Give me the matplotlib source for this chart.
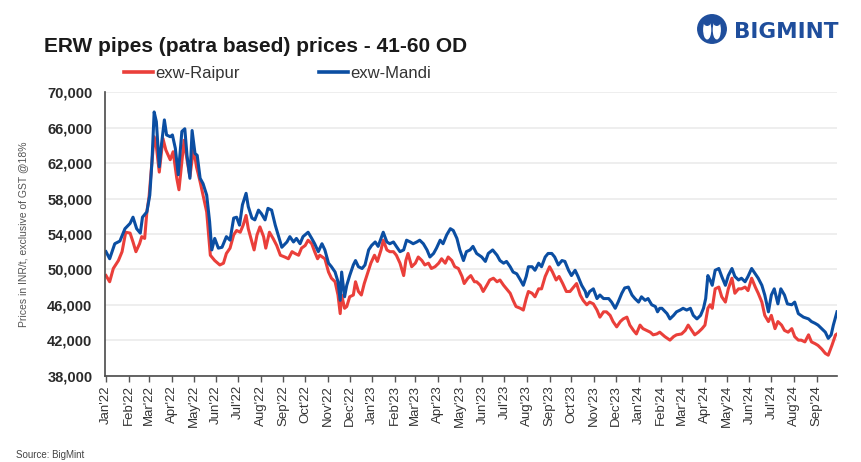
import numpy as np
import pandas as pd
import matplotlib
matplotlib.use('Agg')
import matplotlib.pyplot as plt
from matplotlib.patches import Circle, Ellipse

plt.rcParams['font.family'] = ['Liberation Sans', 'DejaVu Sans']

# days since 1 Jan 2022 and prices (INR/t)
mandi_day = [0, 5, 12, 19, 26, 33, 37, 42, 47, 50, 56, 60, 63, 66, 69, 73, 76, 80, 83, 88,
             91, 95, 99, 104, 108, 111, 115, 118, 122, 125, 129, 133, 138, 142, 145, 149, 154, 159, 165, 170,
             175, 179, 183, 187, 192, 195, 200, 204, 209, 213, 218, 222, 227, 232, 236, 241, 248,
             252, 257, 261, 266, 270, 277, 282, 286, 291, 296, 300, 305, 309, 314, 318, 321, 323, 327, 330, 334,
             339, 342, 346, 351, 355, 360, 364, 369, 373, 377, 380, 385, 389, 394, 398, 403, 408, 412, 417, 421,
             426, 430, 435, 440, 444, 449, 453, 458, 462, 467, 472, 476, 481, 485, 490, 494, 499, 503,
             508, 515, 520, 524, 530, 536, 540, 545, 549, 554, 558, 563, 568, 572, 576, 579, 584, 588, 593, 597,
             602, 606, 611, 615, 620, 625, 629, 634, 638, 643, 647, 652, 657, 659, 663, 668, 673, 677, 682, 689,
             693, 698, 702, 707, 711, 716, 721, 725, 730, 734, 739, 743, 748, 753, 756, 759,
             762, 769, 773, 778, 782, 787, 791, 796, 801, 805, 810, 815, 819, 822, 825, 828, 831, 835, 840, 844,
             849, 853, 858, 862, 867, 871, 876, 880, 885, 890, 894, 899, 903, 908, 912, 916, 921, 925, 930, 934,
             940, 944, 949, 956, 963, 967, 972, 976, 981, 986, 990, 994, 997, 1002]
mandi_price = [52000, 51200, 52900, 53200, 54600, 55200, 55900, 54600, 54100, 55900,
               56500, 58400, 62200, 67800, 66700, 61600, 64100, 66900, 65200, 65000,
               65200, 63700, 60700, 65600, 65900, 62900, 60300, 65700, 63100, 62900,
               60300, 59700, 58400, 55400, 52200, 53500, 52400, 52500, 53700, 53300,
               55800, 55900, 55000, 57300, 58600, 57100, 55800, 55600, 56700, 56300,
               55600, 56900, 56700, 55000, 53900, 52500, 53100,
               53700, 53100, 53500, 52900, 53700, 54200, 53500, 52900, 52000, 52900,
               52200, 50700, 50300, 49700, 48600, 46500, 49700, 46900, 48200, 49300,
               50500, 51000, 50300, 50100, 50500, 52200, 52700, 53100, 52600, 53500,
               54200, 53100, 52900, 53100, 52600, 52000, 52200, 53300, 53100, 52900,
               53100, 53300, 52900, 52200, 51400, 51800, 52400, 53300, 52900, 53900,
               54600, 54400, 53500, 52200, 51000, 52000, 52200, 52600,
               51800, 51400, 50900, 51800, 52200, 51600, 51000, 50700, 50900, 50300,
               49700, 49500, 48800, 48200, 49200, 50300, 50300, 49900, 50700, 50300,
               51400, 51800, 51800, 51400, 50500, 51000, 50900, 49900, 49300, 49900,
               49200, 48200, 47500, 46900, 47500, 47800, 46700, 47100, 46700, 46700,
               46300, 45600, 46300, 47300, 47900, 48000, 47100, 46700, 46300, 46900,
               46500, 46700, 46000, 45800, 45200, 45600,
               45600, 45000, 44400, 44800, 45200, 45400, 45600, 45400, 45600, 44800,
               44400, 44800, 45600, 46700, 49300, 48800, 48200, 49900, 50100, 49200,
               48200, 49300, 50100, 49200, 48800, 49000, 48600, 49200, 50100, 49500,
               49000, 48200, 47100, 45200, 47100, 47800, 46100, 47800, 47100, 46100,
               46000, 46300, 45000, 44600, 44400, 44100, 43900, 43700, 43300, 42900,
               42200, 42600, 43700, 45200]

raipur_day = [0, 5, 10, 17, 22, 27, 33, 37, 41, 46, 49, 53, 56, 59, 63, 66, 69, 73, 78, 82,
              88, 92, 97, 100, 104, 107, 111, 115, 120, 124, 129, 133, 138, 143, 149, 156, 161, 165, 170, 175,
              179, 184, 188, 192, 195, 200, 203, 207, 211, 216, 219, 224, 229, 234, 239, 245,
              250, 255, 259, 264, 268, 273, 277, 282, 286, 290, 293, 300, 305, 309, 314, 318, 321, 323, 327, 330,
              334, 339, 342, 346, 350, 354, 359, 363, 368, 372, 377, 380, 385, 389, 394, 398, 403, 408, 411, 414,
              419, 424, 428, 433, 437, 442, 446, 451, 456, 460, 465, 469, 474, 478, 483, 488, 491, 496, 500, 505,
              508, 513, 517, 522, 526, 531, 536, 540, 545, 549, 554, 558, 562, 568, 572, 576, 579, 584, 588, 593,
              597, 602, 608, 612, 617, 621, 626, 631, 636, 641, 645, 650, 654, 659, 663, 668, 673, 677, 682, 686,
              691, 695, 700, 705, 709, 714, 718, 723, 727, 732, 736, 741, 746, 750, 755,
              759, 766, 773, 778, 782, 789, 794, 798, 803, 807, 812, 817, 821, 825, 828, 831, 835, 840, 844, 849,
              853, 858, 862, 867, 871, 876, 880, 885, 890, 894, 899, 903, 908, 912, 917, 921, 926, 930, 935, 940,
              944, 949, 953, 958, 963, 967, 972, 976, 981, 986, 990, 995, 1000, 1002]
raipur_price = [49300, 48600, 50100, 51000, 52000, 54200, 54100, 53100, 52000, 52900,
                53700, 53500, 56500, 58200, 62200, 65000, 63900, 61000, 64800, 63500,
                62400, 63300, 60300, 59000, 62200, 64600, 62400, 60500, 63700, 61600,
                59900, 58400, 56500, 51600, 51000, 50500, 50700, 51800, 52400, 53900,
                54400, 54200, 55000, 56100, 54600, 53100, 52200, 53900, 54800, 53700,
                52400, 54200, 53500, 52700, 51600, 51400,
                51200, 52000, 51800, 51600, 52400, 52700, 53300, 52900, 52000, 51200,
                51600, 51200, 49700, 49000, 48600, 47100, 45000, 47100, 45600, 45800,
                46900, 47100, 48600, 47500, 47100, 48400, 49700, 50700, 51600, 50900,
                52200, 53300, 52200, 52000, 52000, 51600, 50700, 49300, 51000, 51800,
                50300, 50700, 51400, 51000, 50500, 50700, 50100, 50300, 50700, 51200,
                50700, 51400, 51000, 50300, 50100, 49200, 48400, 49000, 49300, 48600,
                48600, 48200, 47500, 48200, 48800, 49000, 48600, 48800, 48200, 47800,
                47300, 46500, 45800, 45600, 45400, 46700, 47500, 47300, 46900, 47800,
                47800, 49200, 50300, 49700, 48800, 49200, 48400, 47500, 47500, 48000,
                48400, 47100, 46500, 46000, 46300, 46100, 45400, 44600, 45200, 45200,
                44800, 44100, 43500, 44100, 44400, 44600, 43700, 43100, 42700, 43700,
                43300, 43100, 42900, 42600, 42700,
                42900, 42400, 42000, 42400, 42600, 42700, 43100, 43700, 43100, 42600,
                42900, 43300, 43700, 45600, 46000, 45600, 47800, 48000, 46900, 46300,
                47800, 49000, 47300, 47800, 47800, 48000, 47600, 49000, 48000, 47300,
                46300, 44800, 44100, 44800, 43300, 44100, 43700, 43100, 42900, 43300,
                42400, 42000, 42000, 41800, 42600, 41800, 41600, 41400, 41000, 40500,
                40300, 41400, 42600, 42700]

y_ticks = [38000, 42000, 46000, 50000, 54000, 58000, 62000, 66000, 70000]

start = pd.Timestamp('2022-01-01')
mandi_dates = start + pd.to_timedelta(mandi_day, unit='D')
raipur_dates = start + pd.to_timedelta(raipur_day, unit='D')
month_ticks = pd.date_range('2022-01-01', '2024-09-01', freq='MS')

red = '#EA3F3A'
blue = '#0B4EA2'

fig = plt.figure(figsize=(8.62, 4.62), dpi=100)
ax = fig.add_axes([0.1218, 0.1872, 0.8492, 0.6126])

ax.plot(raipur_dates, raipur_price, color=red, lw=2.2, label='exw-Raipur')
ax.plot(mandi_dates, mandi_price, color=blue, lw=2.2, label='exw-Mandi')

ax.set_ylim(38000, 70000)
ax.set_xlim(start - pd.Timedelta(days=1.4), start + pd.Timedelta(days=1002))
ax.set_yticks(y_ticks)
ax.set_yticklabels([f'{v:,}' for v in y_ticks], fontsize=10.5, fontweight='bold', color='#2a2a2a')
ax.set_xticks(month_ticks)
ax.set_xticklabels([d.strftime("%b'%y") for d in month_ticks], rotation=90, fontsize=9.5, color='#333333')
ax.tick_params(axis='y', length=0, pad=9)
ax.tick_params(axis='x', length=4, width=1, color='#555555', pad=3)
ax.grid(axis='y', color='#ededed', lw=1.3)
ax.set_axisbelow(True)
for s in ['top', 'right']:
    ax.spines[s].set_visible(False)
for s in ['left', 'bottom']:
    ax.spines[s].set_color('#4a4a4a')
    ax.spines[s].set_linewidth(1.2)

fig.text(23 / 862, 0.493, 'Prices in INR/t, exclusive of GST @18%', rotation=90,
         ha='center', va='center', fontsize=7.5, color='#555555')

fig.text(44 / 862, 1 - 51.7 / 462, 'ERW pipes (patra based) prices - 41-60 OD',
         ha='left', va='baseline', fontsize=15, fontweight='bold', color='#1a1a1a')

leg = ax.legend(loc='center left', bbox_to_anchor=(124 / 862, 1 - 73.3 / 462),
                bbox_transform=fig.transFigure, ncol=2, frameon=False, fontsize=12,
                handlelength=1.75, handletextpad=0.1, columnspacing=4.8,
                borderpad=0, borderaxespad=0)
for t in leg.get_texts():
    t.set_color('#333333')
for h in leg.get_lines():
    h.set_linewidth(2.6)

fig.text(16 / 862, 1 - 455 / 462, 'Source: BigMint', ha='left', va='center',
         fontsize=7, color='#444444')

# logo
lax = fig.add_axes([697 / 862, 1 - 44 / 462, 30 / 862, 30 / 462])
lax.set_xlim(-1, 1)
lax.set_ylim(-1, 1)
lax.set_aspect('equal')
lax.axis('off')
lax.add_patch(Circle((0, 0), 0.95, color='#1f4e9c'))
lax.add_patch(Ellipse((-0.32, -0.05), 0.45, 1.2, color='white'))
lax.add_patch(Ellipse((0.32, -0.05), 0.45, 1.2, color='white'))
lax.add_patch(Circle((-0.32, 0.45), 0.2, color='#1f4e9c'))
lax.add_patch(Circle((0.32, 0.45), 0.2, color='#1f4e9c'))
fig.text(734 / 862, 1 - 32 / 462, 'BIGMINT', ha='left', va='center', fontsize=15.5,
         fontweight='bold', color='#1f4e9c', family='DejaVu Sans')

fig.savefig('out.png', dpi=100)
